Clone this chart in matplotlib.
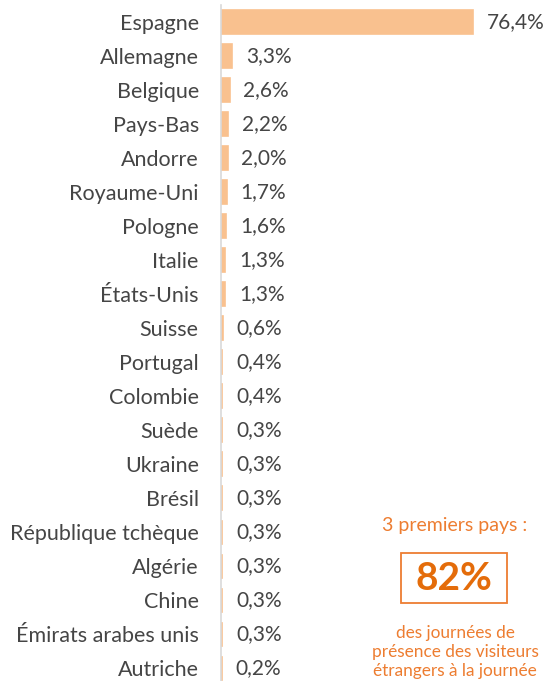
import matplotlib.pyplot as plt
from matplotlib.patches import Rectangle

# Données
pays = ['Espagne', 'Allemagne', 'Belgique', 'Pays-Bas', 'Andorre', 'Royaume-Uni',
        'Pologne', 'Italie', 'États-Unis', 'Suisse', 'Portugal', 'Colombie',
        'Suède', 'Ukraine', 'Brésil', 'République tchèque', 'Algérie', 'Chine',
        'Émirats arabes unis', 'Autriche']
parts = [76.4, 3.3, 2.6, 2.2, 2.0, 1.7, 1.6, 1.3, 1.3, 0.6, 0.4, 0.4,
         0.3, 0.3, 0.3, 0.3, 0.3, 0.3, 0.3, 0.2]

plt.rcParams['font.family'] = ['Lato', 'DejaVu Sans']

fig = plt.figure(figsize=(5.51, 6.81), dpi=100)
ax = fig.add_axes([221 / 551, 0, 330 / 551, 676 / 681])

y = list(range(len(pays)))
ax.barh(y, parts, height=0.68, color='#F9C18F', edgecolor='#F9C18F', linewidth=1.2)

for i, v in enumerate(parts):
    ax.annotate(f'{v:.1f}%'.replace('.', ','), xy=(v, i), xytext=(10, 0),
                textcoords='offset points', va='center', ha='left',
                fontsize=15, color='#454545')

ax.set_xlim(0, 100)
ax.set_ylim(19.38, -0.5)
ax.set_yticks(y)
ax.set_yticklabels(pays, fontsize=15.5, color='#454545')
ax.tick_params(axis='y', length=0, pad=16)
ax.set_xticks([])
for s in ['top', 'right', 'bottom']:
    ax.spines[s].set_visible(False)
ax.spines['left'].set_color('#D9D9D9')
ax.spines['left'].set_linewidth(1.2)

# Encadré
orange = '#ED7D31'
fig.text(455 / 551, 1 - 525 / 681, '3 premiers pays :', ha='center', va='center',
         fontsize=14, color=orange)
fig.patches.append(Rectangle((401 / 551, 1 - 603 / 681), 106 / 551, 50 / 681,
                             transform=fig.transFigure, fill=False,
                             ec=orange, lw=1.3))
fig.text(454 / 551, 1 - 579 / 681, '82%', ha='center', va='center',
         fontsize=28, fontweight='bold', color='#E46C0A')
fig.text(455 / 551, 1 - 652 / 681,
         'des journées de\nprésence des visiteurs\nétrangers à la journée',
         ha='center', va='center', fontsize=12.4, color=orange, linespacing=1.2)

fig.savefig('out.png', dpi=100)
